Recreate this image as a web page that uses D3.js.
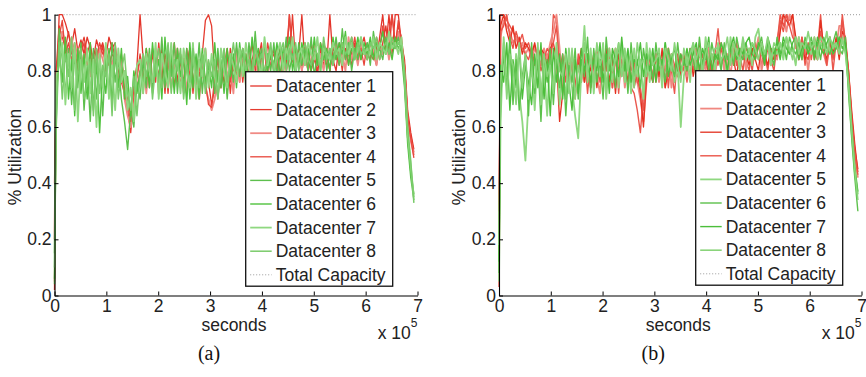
<!DOCTYPE html>
<html>
<meta charset="utf-8">
<head>
<style>
body { margin:0; padding:0; background:#fff; }
svg { display:block; }
.axis text { font-family: "Liberation Sans", Arial, sans-serif; font-size:17.5px; fill:#222; }
.axis path, .axis line { stroke:#000; }
.lbl { font-family: "Liberation Sans", Arial, sans-serif; font-size:17.5px; fill:#222; }
.cap { font-family: "Liberation Serif", "Times New Roman", serif; font-size:20px; fill:#111; }
</style>
</head>
<body>
<svg></svg>
<script src="https://d3js.org/d3.v7.min.js"></script>
<script>

var width = 866, height = 377;

var svg = d3.select("svg")
  .attr("width", width)
  .attr("height", height);

// sample times in seconds (first sample at 0, then every 6000 s)
var times = [0].concat(d3.range(116).map(function(i) { return 3000 + i * 6000; }));

var xTicks = [0, 1e5, 2e5, 3e5, 4e5, 5e5, 6e5, 7e5];
var yTicks = [0, 0.2, 0.4, 0.6, 0.8, 1];
var seriesNames = ["Datacenter 1", "Datacenter 2", "Datacenter 3", "Datacenter 4",
                   "Datacenter 5", "Datacenter 6", "Datacenter 7", "Datacenter 8"];

// utilization in percent, panel (a)
var dcA1 = [2,
  68,100,100,97,93,89,95,87,91,86, 92,88,84,91,87,90,85,92,88,90,
  78,86,74,70,64,76,82,100,84,76, 86,74,84,78,88,72,86,80,90,76,
  84,72,88,78,86,74,84,80,88,76, 68,74,86,78,84,72,88,80,86,76,
  88,78,84,90,80,86,76,88,82,86, 80,88,76,86,82,100,84,80,86,100,
  82,88,80,86,78,90,84,82,100,84, 80,90,84,88,82,92,86,90,84,88,
  84,90,86,82,92,100,88,100,86,100, 100,90,84,66,58,52];
var dcA2 = [5,
  80,96,92,88,94,86,90,84,88,92, 86,90,82,88,84,89,80,86,90,84,
  86,76,72,66,58,70,78,86,76,88, 80,86,76,90,78,84,72,88,80,86,
  74,86,80,88,72,84,78,86,98,100, 96,78,70,82,76,86,72,84,80,88,
  76,86,82,78,88,84,90,78,86,82, 88,80,86,78,90,84,100,82,88,80,
  86,80,90,84,80,88,82,86,80,90, 84,88,80,92,86,82,90,84,88,92,
  86,84,92,88,84,90,96,86,100,90, 96,92,82,64,57,51];
var dcA3 = [20,
  70,88,94,90,86,92,84,88,82,86, 84,78,86,82,88,84,80,86,82,88,
  76,84,70,64,60,68,74,80,86,72, 84,76,88,72,84,78,86,74,82,88,
  78,84,72,86,76,82,70,80,74,70, 66,70,80,74,86,78,82,72,88,76,
  84,78,88,80,86,76,84,88,78,86, 82,88,78,86,80,84,90,82,86,80,
  88,80,84,90,82,86,80,88,84,82, 90,84,86,80,92,84,88,82,90,86,
  84,90,88,82,90,86,92,84,90,88, 94,88,80,62,55,50];
var dcA4 = [40,
  76,92,98,86,90,84,88,80,86,90, 82,86,80,84,90,86,88,82,86,84,
  84,78,74,68,62,74,78,84,72,86, 74,88,80,84,76,86,80,88,74,84,
  86,76,82,88,74,84,80,86,76,68, 67,78,84,74,82,88,76,84,78,86,
  80,86,78,84,88,80,86,78,90,84, 86,80,88,82,86,100,84,80,88,82,
  90,84,80,88,84,82,90,86,80,88, 86,82,90,84,88,86,92,84,88,82,
  90,86,84,92,88,96,86,94,100,88, 98,90,82,63,56,49];
var dcA5 = [4,
  60,95,84,72,88,68,86,74,90,66, 82,62,88,70,84,64,86,72,90,76,
  84,70,62,52,66,60,76,70,84,74, 88,72,86,76,92,74,88,78,90,72,
  86,74,88,70,84,76,90,72,86,78, 84,72,88,74,86,70,84,76,90,78,
  88,74,90,78,94,80,88,76,86,80, 90,78,88,82,92,80,86,78,90,82,
  88,80,92,78,86,82,90,80,88,84, 92,82,95,84,90,80,88,84,92,86,
  90,82,94,86,88,84,92,86,90,88, 92,86,74,54,42,34];
var dcA6 = [6,
  68,88,76,92,70,84,64,88,72,86, 70,90,66,84,58,80,72,88,68,86,
  74,88,70,78,64,80,72,80,76,88, 74,90,78,84,70,92,76,86,72,88,
  78,84,68,90,74,86,70,88,76,82, 74,90,76,84,72,88,78,86,74,90,
  80,86,76,92,82,88,78,90,80,86, 82,90,78,88,84,92,80,88,82,90,
  84,88,80,92,82,90,84,88,80,92, 84,90,86,94,82,88,86,92,84,90,
  86,92,84,90,88,94,86,90,84,92, 88,90,76,56,44,36];
var dcA7 = [10,
  78,82,90,68,86,74,90,62,84,76, 88,72,84,60,86,74,90,70,82,66,
  88,76,80,66,74,62,82,84,72,86, 80,76,90,70,86,80,74,90,78,84,
  72,88,80,74,90,70,84,78,88,74, 86,78,72,88,80,74,86,82,76,88,
  78,90,82,76,88,84,78,92,82,88, 80,86,90,80,88,84,92,80,86,88,
  82,90,86,84,92,80,88,86,84,90, 86,88,82,92,86,90,84,88,92,86,
  88,86,92,84,90,88,86,94,88,90, 86,92,78,58,46,35];
var dcA8 = [15,
  58,90,70,86,78,92,66,80,88,70, 76,84,64,88,72,82,78,86,64,90,
  70,80,86,72,66,78,64,78,86,78, 86,70,82,88,74,80,90,72,84,80,
  88,70,82,76,88,80,74,86,72,84, 78,84,70,80,88,76,82,90,80,84,
  88,80,84,78,90,82,86,80,84,90, 78,84,86,90,80,88,84,90,80,86,
  90,84,82,88,86,80,92,84,88,82, 88,84,90,86,88,92,84,90,86,88,
  84,90,88,92,84,88,90,86,92,88, 90,88,80,60,48,33];

// utilization in percent, panel (b)
var dcB1 = [3,
  100,100,98,96,94,92,90,93,88,90, 86,89,84,88,82,86,80,100,98,84,
  80,86,74,84,70,82,76,86,72,84, 76,86,80,88,74,84,78,88,72,86,
  78,84,74,72,66,58,72,84,80,76, 86,78,84,74,88,80,72,86,78,84,
  76,86,80,88,78,86,82,90,78,86, 95,82,88,78,86,82,90,80,88,84,
  80,88,84,90,82,86,80,88,84,90, 100,96,100,98,100,90,84,92,82,90,
  84,92,88,100,86,84,92,80,90,88, 100,90,80,64,52,45];
var dcB2 = [8,
  92,98,96,94,90,92,88,90,86,88, 84,88,86,82,88,84,90,94,100,88,
  74,84,78,86,72,84,80,76,86,74, 84,78,72,86,80,88,74,84,78,86,
  74,84,78,82,76,70,62,76,84,78, 86,76,84,80,88,74,82,78,84,86,
  78,86,82,88,76,84,80,88,82,78, 86,90,80,86,78,88,82,86,90,80,
  88,82,86,92,80,86,90,82,88,84, 96,100,94,100,96,88,92,84,88,80,
  90,84,88,94,86,82,90,86,88,96, 96,88,78,62,50,42];
var dcB3 = [30,
  96,100,94,90,96,88,92,86,90,88, 86,90,84,88,86,82,88,90,84,62,
  72,84,78,86,74,82,88,76,84,80, 86,74,84,80,88,76,84,72,86,80,
  84,76,86,74,80,72,60,78,86,76, 84,78,88,74,80,86,76,84,78,86,
  80,88,78,84,90,80,86,78,86,84, 88,82,86,80,90,84,78,88,84,86,
  82,88,84,80,90,86,82,88,84,86, 94,100,98,96,100,92,86,90,84,88,
  86,90,84,98,88,84,90,86,92,84, 94,92,80,66,54,44];
var dcB4 = [20,
  94,96,100,92,88,94,90,88,86,84, 88,82,86,80,84,88,86,90,96,80,
  86,76,84,80,72,86,78,84,80,74, 82,88,76,84,80,86,74,88,80,84,
  78,86,80,84,76,74,66,82,78,86, 76,84,80,88,74,86,82,78,86,80,
  84,78,88,82,86,80,88,84,78,86, 82,88,84,80,86,90,82,86,80,88,
  86,80,90,84,86,82,88,84,80,90, 98,94,100,96,92,90,84,92,86,84,
  90,86,84,94,88,82,92,84,90,88, 98,90,79,63,51,43];
var dcB5 = [5,
  62,92,78,88,70,86,72,62,48,70, 84,66,88,72,82,64,86,74,90,68,
  82,70,88,74,64,56,80,96,76,88, 72,86,78,90,70,84,76,88,74,90,
  76,86,72,88,78,84,70,90,76,86, 80,88,74,90,80,86,76,82,60,78,
  86,76,90,80,88,78,92,82,86,80, 90,82,88,76,92,84,88,80,90,84,
  88,82,92,95,86,84,90,82,88,86, 90,84,92,86,88,82,92,86,90,88,
  86,92,84,90,88,94,86,90,88,92, 90,88,74,58,44,36];
var dcB6 = [8,
  70,86,74,92,68,84,66,78,86,64, 90,72,84,62,86,76,88,68,84,74,
  86,64,82,76,88,70,84,78,92,72, 88,76,84,70,92,80,86,74,90,78,
  86,72,90,78,84,74,88,80,86,76, 90,80,84,76,88,82,78,90,80,84,
  80,88,84,78,92,82,88,80,90,84, 86,80,90,84,88,82,92,86,84,90,
  84,90,86,88,92,84,90,86,82,92, 86,90,84,92,88,86,90,84,92,88,
  92,86,90,84,92,88,86,90,94,88, 86,92,72,56,42,30];
var dcB7 = [12,
  82,76,90,66,84,74,88,70,82,76, 68,86,74,90,70,84,64,88,76,86,
  70,88,76,66,84,72,88,80,86,76, 84,80,90,76,86,72,88,84,78,92,
  80,88,76,84,82,90,78,86,80,88, 76,86,82,90,78,84,88,80,86,82,
  88,82,86,90,80,88,84,92,80,86, 84,90,86,80,88,92,84,88,86,90,
  92,86,84,90,88,82,92,88,86,90, 84,92,88,86,90,92,84,88,90,86,
  90,84,92,88,86,90,92,86,88,92, 88,90,76,60,46,37];
var dcB8 = [18,
  76,90,70,86,82,68,90,74,86,70, 80,74,90,68,86,78,82,72,88,80,
  78,86,72,88,70,82,76,90,80,84, 76,90,82,86,74,88,80,84,90,78,
  88,80,86,74,90,82,84,78,88,82, 84,86,78,88,84,80,90,82,76,88,
  82,86,90,84,88,80,86,90,84,88, 88,84,86,92,82,90,86,84,92,86,
  86,90,88,84,90,86,92,84,90,88, 90,86,92,88,84,92,86,90,88,94,
  88,90,86,92,90,86,92,88,90,86, 92,86,75,59,45,34];

var colorsA = ["#e3342a", "#e53b2f", "#f08a84", "#e8463c", "#5dbf4d", "#4fc23d", "#8fd880", "#7acb6a"];
var colorsB = ["#ea574d", "#f08880", "#e3301f", "#ea5449", "#8fd880", "#5cc14b", "#4cbe3b", "#8ad47b"];
var widthsA = [1.3, 1.3, 1.8, 1.3, 1.4, 1.4, 1.8, 1.5];
var widthsB = [1.4, 1.8, 1.3, 1.4, 1.8, 1.4, 1.4, 1.6];

var panels = [
  { cap: "(a)", left: 54.5, right: 417.5, data: [dcA1, dcA2, dcA3, dcA4, dcA5, dcA6, dcA7, dcA8],
    colors: colorsA, widths: widthsA, legX: 245.7, legY: 71.7, labX: 20.5 },
  { cap: "(b)", left: 499, right: 861.5, data: [dcB1, dcB2, dcB3, dcB4, dcB5, dcB6, dcB7, dcB8],
    colors: colorsB, widths: widthsB, legX: 695.7, legY: 70.7, labX: 465 }
];

var plotTop = 14.7, plotBottom = 295.5;

panels.forEach(function(p) {
  var g = svg.append("g");
  var x = d3.scaleLinear().domain([0, 7e5]).range([p.left, p.right]);
  var y = d3.scaleLinear().domain([0, 1]).range([plotBottom, plotTop]);

  // total capacity
  g.append("path")
    .datum([0, 7e5])
    .attr("d", d3.line().x(function(d) { return x(d); }).y(y(1)))
    .attr("fill", "none")
    .attr("stroke", "#9a9a9a")
    .attr("stroke-width", 1)
    .attr("stroke-dasharray", "1,2");

  var line = d3.line()
    .x(function(d, i) { return x(times[i]); })
    .y(function(d) { return y(d / 100); });

  p.data.forEach(function(s, k) {
    g.append("path")
      .datum(s)
      .attr("d", line)
      .attr("fill", "none")
      .attr("stroke", p.colors[k])
      .attr("stroke-width", p.widths[k])
      .attr("stroke-linejoin", "round");
  });

  // axes, matlab style inward ticks
  var ax = g.append("g")
    .attr("class", "axis")
    .attr("transform", "translate(0," + plotBottom + ")")
    .call(d3.axisBottom(x).tickValues(xTicks).tickSize(-4).tickSizeOuter(0).tickPadding(4)
      .tickFormat(function(d) { return d / 1e5; }));
  var ay = g.append("g")
    .attr("class", "axis")
    .attr("transform", "translate(" + p.left + ",0)")
    .call(d3.axisLeft(y).tickValues(yTicks).tickSize(-4).tickSizeOuter(0).tickPadding(3)
      .tickFormat(function(d) { return String(d); }));
  [ax, ay].forEach(function(a) {
    a.attr("font-family", null).attr("font-size", null);
    a.select(".domain").attr("stroke-width", 1.1);
  });

  var mid = (p.left + p.right) / 2;
  g.append("text").attr("class", "lbl")
    .attr("x", mid - 2).attr("y", 331)
    .attr("text-anchor", "middle")
    .text("seconds");
  var e = g.append("text").attr("class", "lbl")
    .attr("x", p.right).attr("y", 338.5)
    .attr("text-anchor", "end");
  e.append("tspan").text("x 10");
  e.append("tspan").attr("dy", -12).attr("font-size", 12).text("5");

  g.append("text").attr("class", "lbl")
    .attr("transform", "translate(" + p.labX + "," + 157 + ") rotate(-90)")
    .attr("text-anchor", "middle")
    .text("% Utilization");

  g.append("text").attr("class", "cap")
    .attr("x", mid - 27).attr("y", 360)
    .attr("text-anchor", "middle")
    .text(p.cap);

  // legend
  var leg = g.append("g").attr("transform", "translate(" + p.legX + "," + p.legY + ")");
  leg.append("rect")
    .attr("width", 147).attr("height", 214.5)
    .attr("fill", "#fff").attr("stroke", "#111").attr("stroke-width", 1.3);
  var names = seriesNames.concat(["Total Capacity"]);
  names.forEach(function(n, k) {
    var ry = 14.3 + k * 23.6;
    var ln = leg.append("line")
      .attr("x1", 4.5).attr("x2", 26).attr("y1", ry).attr("y2", ry);
    if (k < 8) {
      ln.attr("stroke", p.colors[k]).attr("stroke-width", p.widths[k]);
    } else {
      ln.attr("stroke", "#9a9a9a").attr("stroke-width", 1).attr("stroke-dasharray", "1,2");
    }
    leg.append("text").attr("class", "lbl")
      .attr("x", 30).attr("y", ry + 6)
      .text(n);
  });
});

</script>
</body>
</html>
